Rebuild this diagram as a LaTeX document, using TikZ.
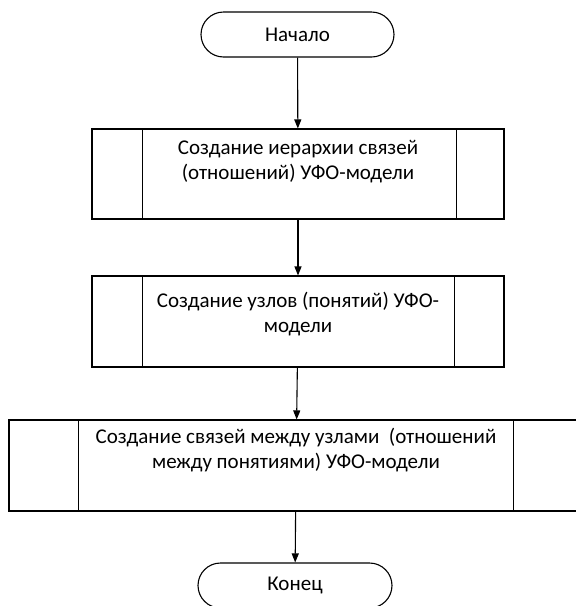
\documentclass[tikz,border=0pt]{standalone}
\usepackage{fontspec}
\setmainfont{Carlito}
\usetikzlibrary{shapes.misc,arrows.meta,calc}
\begin{document}
\begin{tikzpicture}[x=1pt,y=-1pt,
  line width=1.1pt,
  term/.style={draw, rounded rectangle, minimum width=193pt, minimum height=45pt, inner sep=0pt, font=\fontsize{21}{24}\selectfont},
  procframe/.style={draw, rectangle, inner sep=0pt},
  proctext/.style={align=center, inner sep=0pt, font=\fontsize{21}{25}\selectfont},
  flow/.style={draw, -{Triangle[length=9pt,width=7pt]}}
]
\useasboundingbox (0,0) rectangle (576,606);

\node[term] (start) at (297.5,34.5) {Начало};

\node[procframe, minimum width=412pt, minimum height=90pt] (b1) at (298,174) {};
\draw ($(b1.north west)+(51,0)$) -- ($(b1.south west)+(51,0)$);
\draw ($(b1.north east)+(-48,0)$) -- ($(b1.south east)+(-48,0)$);
\node[proctext] (t1) at (298,162) {Создание иерархии связей\\(отношений) УФО-модели};

\node[procframe, minimum width=412pt, minimum height=91pt] (b2) at (298,321.5) {};
\draw ($(b2.north west)+(51,0)$) -- ($(b2.south west)+(51,0)$);
\draw ($(b2.north east)+(-50,0)$) -- ($(b2.south east)+(-50,0)$);
\node[proctext] (t2) at (298,314) {Создание узлов (понятий) УФО-\\модели};

\node[procframe, minimum width=574pt, minimum height=91pt] (b3) at (296,465.5) {};
\draw ($(b3.north west)+(70,0)$) -- ($(b3.south west)+(70,0)$);
\draw ($(b3.north east)+(-70,0)$) -- ($(b3.south east)+(-70,0)$);
\node[proctext] (t3) at (296,450) {Создание связей между узлами~ (отношений\\между понятиями) УФО-модели};

\node[term, minimum width=194pt] (end) at (295,585.5) {Конец};

\path[flow] (start) -- (b1);
\path[flow] (b1) -- (b2);
\path[flow] (b2) -- (b3);
\path[flow] (b3) -- (end);
\end{tikzpicture}
\end{document}
